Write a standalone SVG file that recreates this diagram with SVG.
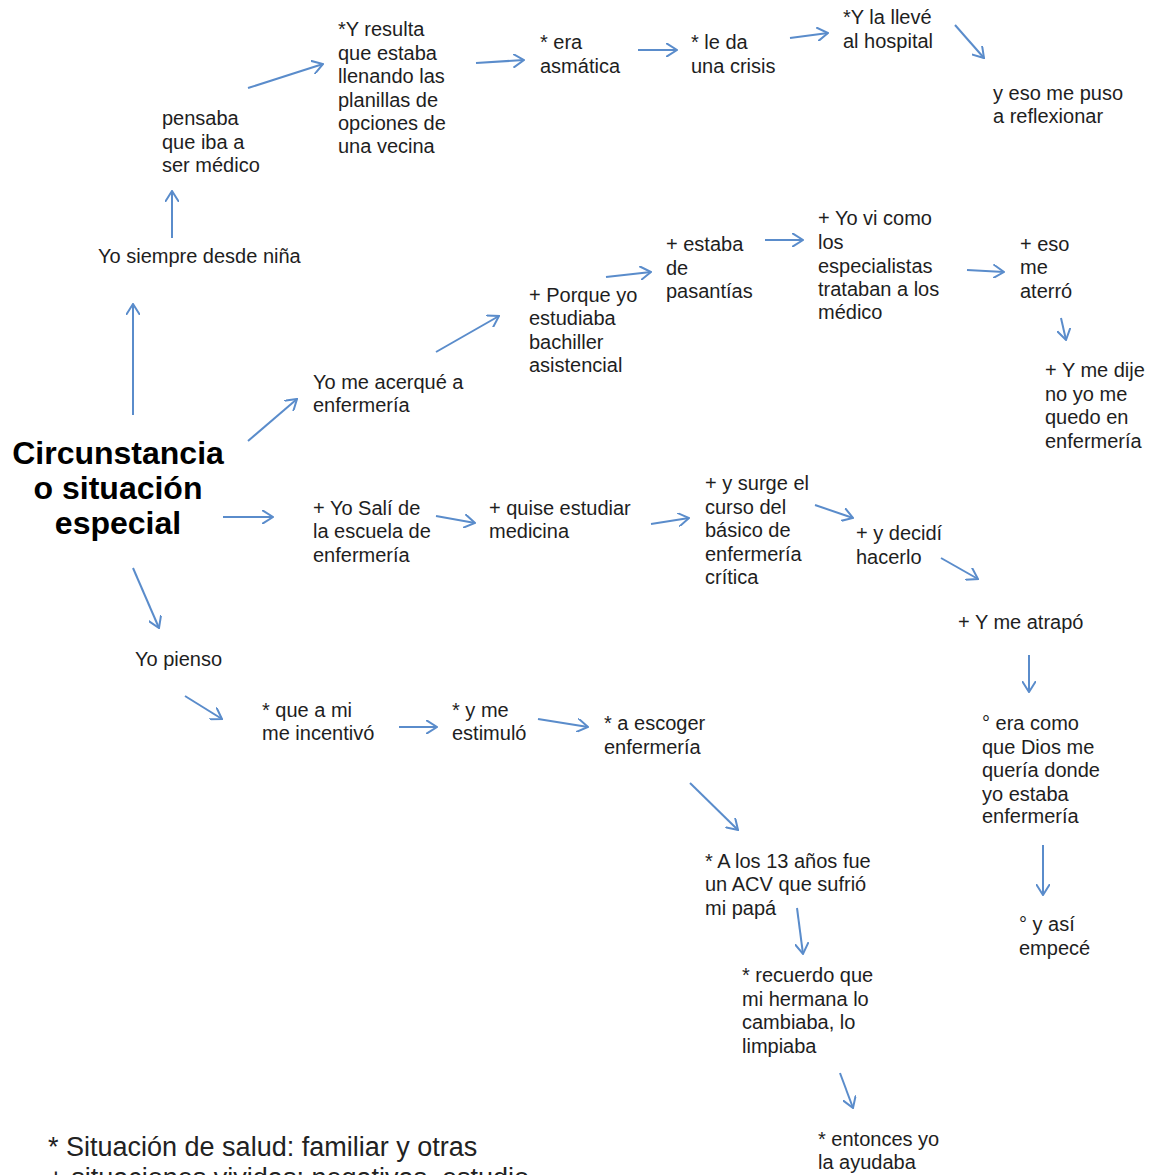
<svg xmlns="http://www.w3.org/2000/svg" width="1165" height="1175" viewBox="0 0 1165 1175">
<style>
.t{font-family:"Liberation Sans",Arial,sans-serif;font-size:20px;fill:#1e1e1e}
.title{font-family:"Liberation Sans",Arial,sans-serif;font-size:32px;font-weight:bold;fill:#000;text-anchor:middle}
.leg{font-family:"Liberation Sans",Arial,sans-serif;font-size:27px;fill:#222}
.c line{stroke:#5a8ccb;stroke-width:2;marker-end:url(#ah)}
</style>
<defs>
<marker id="ah" viewBox="0 0 12 14" refX="11" refY="7" markerWidth="12" markerHeight="14" markerUnits="userSpaceOnUse" orient="auto">
<path d="M0,0 L11,7 L0,14" fill="none" stroke="#5a8ccb" stroke-width="2"/>
</marker>
</defs>
<rect width="1165" height="1175" fill="#fff"/>
<g id="n-title"><text class="title"><tspan x="118" y="464">Circunstancia</tspan><tspan x="118" y="499">o situación</tspan><tspan x="118" y="534">especial</tspan></text></g>
<g id="n-siempre"><text class="t"><tspan x="98" y="263">Yo siempre desde niña</tspan></text></g>
<g id="n-pensaba"><text class="t"><tspan x="162" y="125">pensaba</tspan><tspan x="162" y="148.5">que iba a</tspan><tspan x="162" y="172">ser médico</tspan></text></g>
<g id="n-resulta"><text class="t"><tspan x="338" y="36">*Y resulta</tspan><tspan x="338" y="59.5">que estaba</tspan><tspan x="338" y="83">llenando  las</tspan><tspan x="338" y="106.5">planillas de</tspan><tspan x="338" y="130">opciones de</tspan><tspan x="338" y="153">una vecina</tspan></text></g>
<g id="n-era"><text class="t"><tspan x="540" y="49">* era</tspan><tspan x="540" y="73">asmática</tspan></text></g>
<g id="n-leda"><text class="t"><tspan x="691" y="49">* le da</tspan><tspan x="691" y="73">una crisis</tspan></text></g>
<g id="n-lleve"><text class="t"><tspan x="843" y="24">*Y la llevé</tspan><tspan x="843" y="48">al hospital</tspan></text></g>
<g id="n-reflex"><text class="t"><tspan x="993" y="100">y eso me puso</tspan><tspan x="993" y="123">a reflexionar</tspan></text></g>
<g id="n-acerque"><text class="t"><tspan x="313" y="389">Yo me acerqué a</tspan><tspan x="313" y="412">enfermería</tspan></text></g>
<g id="n-porque"><text class="t"><tspan x="529" y="302">+ Porque yo</tspan><tspan x="529" y="325">estudiaba</tspan><tspan x="529" y="349">bachiller</tspan><tspan x="529" y="372">asistencial</tspan></text></g>
<g id="n-estaba"><text class="t"><tspan x="666" y="251">+ estaba</tspan><tspan x="666" y="275">de</tspan><tspan x="666" y="298">pasantías</tspan></text></g>
<g id="n-yovi"><text class="t"><tspan x="818" y="225">+ Yo vi como</tspan><tspan x="818" y="249">los</tspan><tspan x="818" y="273">especialistas</tspan><tspan x="818" y="296">trataban a los</tspan><tspan x="818" y="319">médico</tspan></text></g>
<g id="n-eso"><text class="t"><tspan x="1020" y="251">+ eso</tspan><tspan x="1020" y="274">me</tspan><tspan x="1020" y="298">aterró</tspan></text></g>
<g id="n-dije"><text class="t"><tspan x="1045" y="377">+ Y  me dije</tspan><tspan x="1045" y="401">no yo me</tspan><tspan x="1045" y="424">quedo en</tspan><tspan x="1045" y="448">enfermería</tspan></text></g>
<g id="n-sali"><text class="t"><tspan x="313" y="515">+ Yo   Salí de</tspan><tspan x="313" y="538">la escuela de</tspan><tspan x="313" y="562">enfermería</tspan></text></g>
<g id="n-quise"><text class="t"><tspan x="489" y="515">+ quise estudiar</tspan><tspan x="489" y="538">medicina</tspan></text></g>
<g id="n-surge"><text class="t"><tspan x="705" y="490">+ y  surge el</tspan><tspan x="705" y="514">curso del</tspan><tspan x="705" y="537">básico de</tspan><tspan x="705" y="561">enfermería</tspan><tspan x="705" y="584">crítica</tspan></text></g>
<g id="n-decidi"><text class="t"><tspan x="856" y="540">+ y  decidí</tspan><tspan x="856" y="564">hacerlo</tspan></text></g>
<g id="n-atrapo"><text class="t"><tspan x="958" y="629">+ Y  me atrapó</tspan></text></g>
<g id="n-dios"><text class="t"><tspan x="982" y="730">° era como</tspan><tspan x="982" y="754">que Dios me</tspan><tspan x="982" y="777">quería donde</tspan><tspan x="982" y="801">yo estaba</tspan><tspan x="982" y="823">enfermería</tspan></text></g>
<g id="n-empece"><text class="t"><tspan x="1019" y="931">° y así</tspan><tspan x="1019" y="955">empecé</tspan></text></g>
<g id="n-pienso"><text class="t"><tspan x="135" y="666">Yo pienso</tspan></text></g>
<g id="n-incentivo"><text class="t"><tspan x="262" y="717">* que a mi</tspan><tspan x="262" y="740">me incentivó</tspan></text></g>
<g id="n-estimulo"><text class="t"><tspan x="452" y="717">* y me</tspan><tspan x="452" y="740">estimuló</tspan></text></g>
<g id="n-escoger"><text class="t"><tspan x="604" y="730">* a escoger</tspan><tspan x="604" y="754">enfermería</tspan></text></g>
<g id="n-acv"><text class="t"><tspan x="705" y="868">* A los 13 años fue</tspan><tspan x="705" y="891">un ACV que sufrió</tspan><tspan x="705" y="915">mi papá</tspan></text></g>
<g id="n-recuerdo"><text class="t"><tspan x="742" y="982">* recuerdo que</tspan><tspan x="742" y="1006">mi hermana lo</tspan><tspan x="742" y="1029">cambiaba, lo</tspan><tspan x="742" y="1053">limpiaba</tspan></text></g>
<g id="n-ayudaba"><text class="t"><tspan x="818" y="1146">* entonces yo</tspan><tspan x="818" y="1169">la ayudaba</tspan></text></g>
<g id="legend"><text class="leg"><tspan x="48" y="1156">* Situación de salud: familiar y otras</tspan><tspan x="48" y="1187">+ situaciones vividas: negativas, estudio</tspan></text></g>
<g id="connectors" class="c">
<line x1="133" y1="415" x2="133" y2="304"/>
<line x1="172" y1="238" x2="172" y2="191"/>
<line x1="248" y1="88" x2="323" y2="64"/>
<line x1="476" y1="63" x2="524" y2="60"/>
<line x1="638" y1="50" x2="677" y2="50"/>
<line x1="790" y1="38" x2="828" y2="33"/>
<line x1="955" y1="25" x2="984" y2="58"/>
<line x1="248" y1="441" x2="297" y2="399"/>
<line x1="436" y1="352" x2="499" y2="316"/>
<line x1="606" y1="277" x2="651" y2="272"/>
<line x1="765" y1="240" x2="803" y2="240"/>
<line x1="967" y1="270" x2="1004" y2="272"/>
<line x1="1061" y1="318" x2="1066" y2="340"/>
<line x1="223" y1="517" x2="273" y2="517"/>
<line x1="436" y1="516" x2="475" y2="523"/>
<line x1="651" y1="524" x2="689" y2="518"/>
<line x1="815" y1="505" x2="853" y2="518"/>
<line x1="941" y1="558" x2="978" y2="579"/>
<line x1="1029" y1="655" x2="1029" y2="692"/>
<line x1="1043" y1="845" x2="1043" y2="895"/>
<line x1="133" y1="568" x2="159" y2="628"/>
<line x1="185" y1="696" x2="222" y2="719"/>
<line x1="399" y1="727" x2="437" y2="727"/>
<line x1="538" y1="719" x2="588" y2="727"/>
<line x1="690" y1="783" x2="738" y2="830"/>
<line x1="797" y1="908" x2="803" y2="954"/>
<line x1="840" y1="1073" x2="853" y2="1108"/>
</g>
</svg>
